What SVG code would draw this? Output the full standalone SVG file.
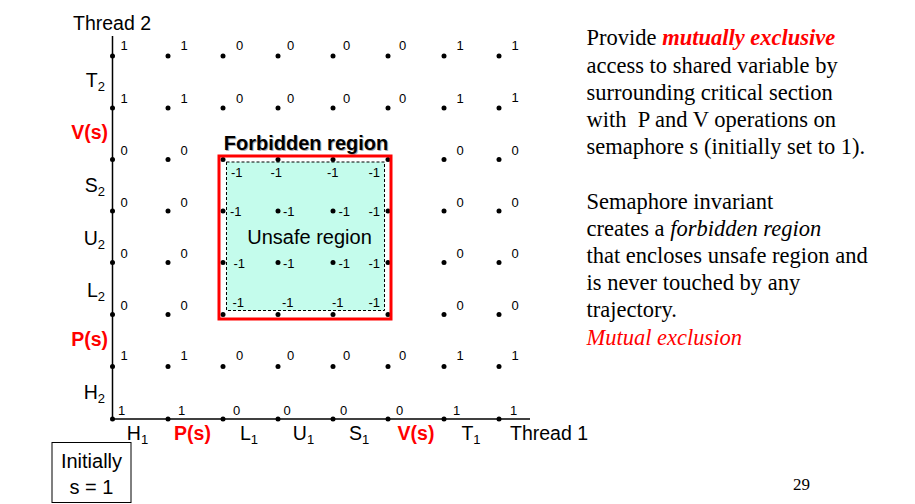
<svg xmlns="http://www.w3.org/2000/svg" width="915" height="504" viewBox="0 0 915 504">
<style>
  .sans { font-family: "Liberation Sans", Arial, sans-serif; }
  .v { font-family: "Liberation Sans", Arial, sans-serif; font-size: 13px; fill: #000; }
  .ax { font-family: "Liberation Sans", Arial, sans-serif; font-size: 19.5px; fill: #000; }
  .op { font-family: "Liberation Sans", Arial, sans-serif; font-size: 19.5px; font-weight: bold; fill: #ff0000; }
  .sub { font-size: 13px; }
  .serif { font-family: "Liberation Serif", "Times New Roman", serif; font-size: 22.5px; }
  .dot { fill: #000; }
</style>
<rect width="915" height="504" fill="#ffffff"/>

<g id="connectors">
  <line x1="112.5" y1="36" x2="112.5" y2="419" stroke="#000" stroke-width="1.5"/>
  <line x1="112.5" y1="419" x2="530" y2="419" stroke="#000" stroke-width="1.5"/>
</g>

<g id="forbidden-region">
  <rect x="219" y="156" width="172" height="163" fill="#ffffff"/>
  <rect x="226.5" y="162" width="158" height="148.5" fill="#c4fcec" stroke="#000" stroke-width="1" stroke-dasharray="3,2"/>
  <text class="sans" x="307" y="150.5" font-size="20" font-weight="bold" text-anchor="middle" fill="#b0b0b0">Forbidden region</text>
  <text class="sans" x="306" y="149.5" font-size="20" font-weight="bold" text-anchor="middle" fill="#000">Forbidden region</text>
  <text class="sans" x="309.5" y="244" font-size="20" text-anchor="middle" fill="#000">Unsafe region</text>
</g>

<g id="grid-points">
  <circle class="dot" cx="112.5" cy="56" r="2.5"/><circle class="dot" cx="168" cy="56" r="2.5"/><circle class="dot" cx="223" cy="56" r="2.5"/><circle class="dot" cx="278" cy="56" r="2.5"/><circle class="dot" cx="333" cy="56" r="2.5"/><circle class="dot" cx="388" cy="56" r="2.5"/><circle class="dot" cx="444" cy="56" r="2.5"/><circle class="dot" cx="499" cy="56" r="2.5"/>
  <circle class="dot" cx="112.5" cy="108" r="2.5"/><circle class="dot" cx="168" cy="108" r="2.5"/><circle class="dot" cx="223" cy="108" r="2.5"/><circle class="dot" cx="278" cy="108" r="2.5"/><circle class="dot" cx="333" cy="108" r="2.5"/><circle class="dot" cx="388" cy="108" r="2.5"/><circle class="dot" cx="444" cy="108" r="2.5"/><circle class="dot" cx="499" cy="108" r="2.5"/>
  <circle class="dot" cx="112.5" cy="159.5" r="2.5"/><circle class="dot" cx="168" cy="159.5" r="2.5"/><circle class="dot" cx="223" cy="159.5" r="2.5"/><circle class="dot" cx="278" cy="159.5" r="2.5"/><circle class="dot" cx="333" cy="159.5" r="2.5"/><circle class="dot" cx="388" cy="159.5" r="2.5"/><circle class="dot" cx="444" cy="159.5" r="2.5"/><circle class="dot" cx="499" cy="159.5" r="2.5"/>
  <circle class="dot" cx="112.5" cy="211" r="2.5"/><circle class="dot" cx="168" cy="211" r="2.5"/><circle class="dot" cx="223" cy="211" r="2.5"/><circle class="dot" cx="278" cy="211" r="2.5"/><circle class="dot" cx="333" cy="211" r="2.5"/><circle class="dot" cx="388" cy="211" r="2.5"/><circle class="dot" cx="444" cy="211" r="2.5"/><circle class="dot" cx="499" cy="211" r="2.5"/>
  <circle class="dot" cx="112.5" cy="262.5" r="2.5"/><circle class="dot" cx="168" cy="262.5" r="2.5"/><circle class="dot" cx="223" cy="262.5" r="2.5"/><circle class="dot" cx="278" cy="262.5" r="2.5"/><circle class="dot" cx="333" cy="262.5" r="2.5"/><circle class="dot" cx="388" cy="262.5" r="2.5"/><circle class="dot" cx="444" cy="262.5" r="2.5"/><circle class="dot" cx="499" cy="262.5" r="2.5"/>
  <circle class="dot" cx="112.5" cy="314.5" r="2.5"/><circle class="dot" cx="168" cy="314.5" r="2.5"/><circle class="dot" cx="223" cy="314.5" r="2.5"/><circle class="dot" cx="278" cy="314.5" r="2.5"/><circle class="dot" cx="333" cy="314.5" r="2.5"/><circle class="dot" cx="388" cy="314.5" r="2.5"/><circle class="dot" cx="444" cy="314.5" r="2.5"/><circle class="dot" cx="499" cy="314.5" r="2.5"/>
  <circle class="dot" cx="112.5" cy="366.5" r="2.5"/><circle class="dot" cx="168" cy="366.5" r="2.5"/><circle class="dot" cx="223" cy="366.5" r="2.5"/><circle class="dot" cx="278" cy="366.5" r="2.5"/><circle class="dot" cx="333" cy="366.5" r="2.5"/><circle class="dot" cx="388" cy="366.5" r="2.5"/><circle class="dot" cx="444" cy="366.5" r="2.5"/><circle class="dot" cx="499" cy="366.5" r="2.5"/>
  <circle class="dot" cx="112.5" cy="419" r="2.5"/><circle class="dot" cx="168" cy="419" r="2.5"/><circle class="dot" cx="223" cy="419" r="2.5"/><circle class="dot" cx="278" cy="419" r="2.5"/><circle class="dot" cx="333" cy="419" r="2.5"/><circle class="dot" cx="388" cy="419" r="2.5"/><circle class="dot" cx="444" cy="419" r="2.5"/><circle class="dot" cx="499" cy="419" r="2.5"/>
</g>

<g id="forbidden-border">
  <rect x="219" y="156" width="172" height="163" fill="none" stroke="#ff0000" stroke-width="3"/>
</g>

<g id="semaphore-values">
  <text class="v" x="120.5" y="49.5">1</text><text class="v" x="180.5" y="49.5">1</text><text class="v" x="236" y="49.5">0</text><text class="v" x="287" y="49.5">0</text><text class="v" x="343" y="49.5">0</text><text class="v" x="399" y="49.5">0</text><text class="v" x="456.5" y="49.5">1</text><text class="v" x="511.5" y="49.5">1</text>
  <text class="v" x="120.5" y="103">1</text><text class="v" x="180.5" y="103">1</text><text class="v" x="236" y="103">0</text><text class="v" x="287" y="103">0</text><text class="v" x="343" y="103">0</text><text class="v" x="399" y="103">0</text><text class="v" x="456.5" y="103">1</text><text class="v" x="511.5" y="102">1</text>
  <text class="v" x="120.5" y="154.5">0</text><text class="v" x="180.5" y="154.5">0</text><text class="v" x="456.5" y="154.5">0</text><text class="v" x="511.5" y="154.5">0</text>
  <text class="v" x="231" y="177">-1</text><text class="v" x="270.5" y="177">-1</text><text class="v" x="327" y="177">-1</text><text class="v" x="368.5" y="177">-1</text>
  <text class="v" x="120.5" y="206.5">0</text><text class="v" x="180.5" y="206.5">0</text><text class="v" x="456.5" y="206.5">0</text><text class="v" x="511.5" y="206.5">0</text>
  <text class="v" x="230" y="215.5">-1</text><text class="v" x="283" y="215.5">-1</text><text class="v" x="338.5" y="215.5">-1</text><text class="v" x="368.5" y="215.5">-1</text>
  <text class="v" x="120.5" y="257.5">0</text><text class="v" x="180.5" y="257.5">0</text><text class="v" x="456.5" y="257.5">0</text><text class="v" x="511.5" y="257.5">0</text>
  <text class="v" x="233.5" y="267.5">-1</text><text class="v" x="283" y="267.5">-1</text><text class="v" x="338.5" y="267.5">-1</text><text class="v" x="368.5" y="267.5">-1</text>
  <text class="v" x="120.5" y="309.5">0</text><text class="v" x="180.5" y="309.5">0</text><text class="v" x="456.5" y="309.5">0</text><text class="v" x="511.5" y="309.5">0</text>
  <text class="v" x="232.5" y="307">-1</text><text class="v" x="282" y="307">-1</text><text class="v" x="332" y="307">-1</text><text class="v" x="368.5" y="307">-1</text>
  <text class="v" x="120.5" y="359.5">1</text><text class="v" x="180.5" y="359.5">1</text><text class="v" x="236" y="359.5">0</text><text class="v" x="287" y="359.5">0</text><text class="v" x="343" y="359.5">0</text><text class="v" x="399" y="359.5">0</text><text class="v" x="456.5" y="359.5">1</text><text class="v" x="511.5" y="359.5">1</text>
  <text class="v" x="118" y="415">1</text><text class="v" x="178" y="415">1</text><text class="v" x="233" y="415">0</text><text class="v" x="283.5" y="415">0</text><text class="v" x="340" y="415">0</text><text class="v" x="396" y="415">0</text><text class="v" x="453" y="415">1</text><text class="v" x="510" y="415">1</text>
</g>

<g id="thread2-axis-labels">
  <text class="ax" x="73" y="29.5">Thread 2</text>
  <text class="ax" x="105" y="87" text-anchor="end">T<tspan class="sub" dy="4">2</tspan></text>
  <text class="op" x="108" y="139" text-anchor="end">V(s)</text>
  <text class="ax" x="105" y="192" text-anchor="end">S<tspan class="sub" dy="4">2</tspan></text>
  <text class="ax" x="105" y="245" text-anchor="end">U<tspan class="sub" dy="4">2</tspan></text>
  <text class="ax" x="105" y="297" text-anchor="end">L<tspan class="sub" dy="4">2</tspan></text>
  <text class="op" x="108" y="346" text-anchor="end">P(s)</text>
  <text class="ax" x="105" y="399" text-anchor="end">H<tspan class="sub" dy="4">2</tspan></text>
</g>

<g id="thread1-axis-labels">
  <text class="ax" x="137.5" y="440" text-anchor="middle">H<tspan class="sub" dy="4">1</tspan></text>
  <text class="op" x="192.5" y="440" text-anchor="middle">P(s)</text>
  <text class="ax" x="249" y="440" text-anchor="middle">L<tspan class="sub" dy="4">1</tspan></text>
  <text class="ax" x="303.5" y="440" text-anchor="middle">U<tspan class="sub" dy="4">1</tspan></text>
  <text class="ax" x="359" y="440" text-anchor="middle">S<tspan class="sub" dy="4">1</tspan></text>
  <text class="op" x="416" y="440" text-anchor="middle">V(s)</text>
  <text class="ax" x="471" y="440" text-anchor="middle">T<tspan class="sub" dy="4">1</tspan></text>
  <text class="ax" x="510" y="440">Thread 1</text>
</g>

<g id="initial-value">
  <rect x="52" y="442.5" width="79" height="60" fill="none" stroke="#000" stroke-width="1"/>
  <text class="sans" x="91.5" y="468" font-size="20" text-anchor="middle" fill="#000">Initially</text>
  <text class="sans" x="91.5" y="494" font-size="20" text-anchor="middle" fill="#000">s = 1</text>
</g>

<g id="description">
  <text class="serif" x="586.5" y="45.3" fill="#000">Provide <tspan fill="#ff0000" font-weight="bold" font-style="italic">mutually exclusive</tspan></text>
  <text class="serif" x="586.5" y="72.5" fill="#000">access to shared variable by</text>
  <text class="serif" x="586.5" y="99.7" fill="#000">surrounding critical section</text>
  <text class="serif" x="586.5" y="126.9" fill="#000" style="white-space:pre">with  P and V operations on</text>
  <text class="serif" x="586.5" y="154.1" fill="#000">semaphore s (initially set to 1).</text>
  <text class="serif" x="586.5" y="208.5" fill="#000">Semaphore invariant</text>
  <text class="serif" x="586.5" y="235.7" fill="#000">creates a <tspan font-style="italic">forbidden region</tspan></text>
  <text class="serif" x="586.5" y="262.9" fill="#000">that encloses unsafe region and</text>
  <text class="serif" x="586.5" y="290.1" fill="#000">is never touched by any</text>
  <text class="serif" x="586.5" y="317.3" fill="#000">trajectory.</text>
  <text class="serif" x="586.5" y="344.5" fill="#ff0000" font-style="italic">Mutual exclusion</text>
</g>

<g id="page-number">
  <text x="793" y="490" font-family="Liberation Serif, Times New Roman, serif" font-size="17" fill="#000">29</text>
</g>
</svg>
